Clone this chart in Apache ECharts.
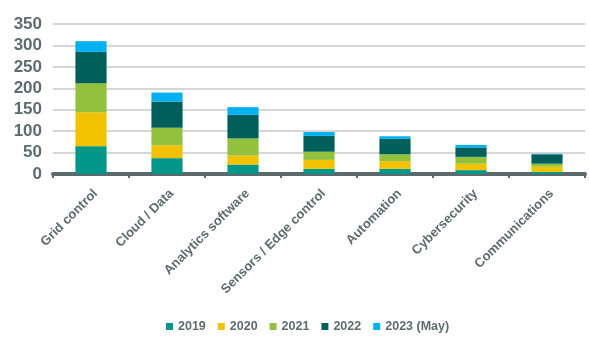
<!DOCTYPE html>
<html><head><meta charset="utf-8">
<script src="https://cdn.jsdelivr.net/npm/echarts@6/dist/echarts.min.js"></script>
<style>html,body{margin:0;padding:0;background:#fff}#c{width:589px;height:341px}</style>
</head><body><div id="c"></div>
<script>
const categories = ["Grid control","Cloud / Data","Analytics software","Sensors / Edge control","Automation","Cybersecurity","Communications"];
const seriesNames = ["2019","2020","2021","2022","2023 (May)"];
const v2019 = [65, 37, 22, 12, 12, 9, 5];
const v2020 = [79, 30, 21, 21, 18, 15, 12];
const v2021 = [68, 41, 40, 19, 16, 16, 7];
const v2022 = [73, 61, 55, 37, 36, 22, 22];
const v2023 = [25, 21, 18, 9, 6, 6, 1];
const colors = ["#00968a","#f2c100","#92c13e","#005f5a","#00b0f0"];
const allValues = [v2019, v2020, v2021, v2022, v2023];

const chart = echarts.init(document.getElementById('c'), null, {renderer:'canvas'});
chart.setOption({
  animation:false,
  grid:{left:53, right:4, top:24, bottom:167, containLabel:false},
  legend:{
    bottom:3, left:161, itemWidth:7, itemHeight:7, itemGap:12, itemTextGap:4, icon:'rect',
    textStyle:{color:'#5f6b6e', fontSize:12.5, fontWeight:'bold', fontFamily:'Liberation Sans'},
    data: seriesNames
  },
  xAxis:{
    type:'category', data:categories,
    axisLine:{lineStyle:{color:'#5b686c', width:4}},
    axisTick:{show:true, length:4, lineStyle:{color:'#5b686c', width:2}},
    axisLabel:{rotate:45, interval:0, color:'#5f6b6e', fontSize:13, fontWeight:'bold', fontFamily:'Liberation Sans', margin:13, verticalAlign:'top'}
  },
  yAxis:{
    type:'value', min:0, max:350, interval:50,
    axisLine:{show:false}, axisTick:{show:false},
    splitLine:{lineStyle:{color:'#d6d6d6', width:2}},
    axisLabel:{color:'#5f6b6e', fontSize:17, fontWeight:'bold', fontFamily:'Liberation Sans', margin:11}
  },
  series: seriesNames.map((n,i)=>({
    name:n, type:'bar', stack:'total', data:allValues[i], barWidth:'41%',
    itemStyle:{color:colors[i]}
  }))
});
</script></body></html>
